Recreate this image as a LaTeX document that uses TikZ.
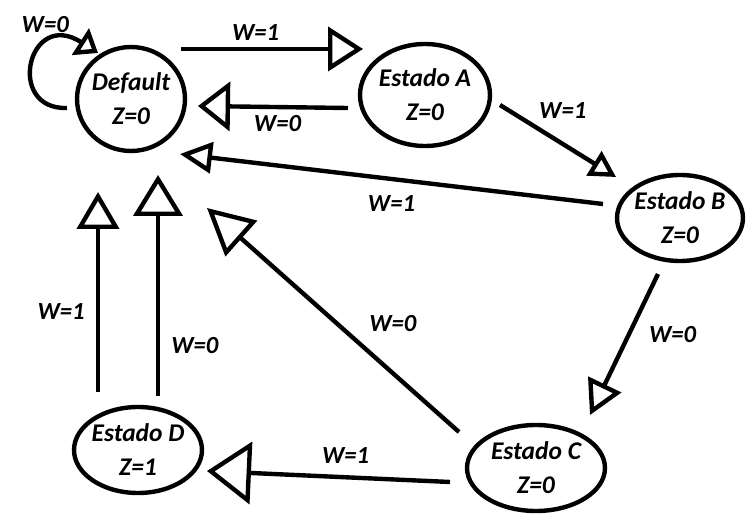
\documentclass[tikz,border=0pt]{standalone}
\usepackage{fontspec}
\setmainfont{Carlito}
\usetikzlibrary{arrows.meta,shapes.geometric}

\begin{document}
\begin{tikzpicture}[x=0.02cm,y=-0.02cm,line width=2.5pt,
    state/.style={draw,ellipse,align=center,inner xsep=-6pt,inner ysep=0pt,
      font=\fontsize{14.5}{19.3}\selectfont\bfseries\itshape},
    lbl/.style={font=\fontsize{14}{17}\selectfont\bfseries\itshape},
    arr/.style 2 args={-{Triangle[open,length=#1,width=#2]}}]
    \useasboundingbox (0,0) rectangle (751,520);
    \node[state,minimum width=2.16cm,minimum height=2.08cm] (def) at (131,99) {Default\\Z=0};
    \node[state,minimum width=2.60cm,minimum height=2.04cm] (a) at (425,95) {Estado A\\Z=0};
    \node[state,minimum width=2.52cm,minimum height=1.72cm] (b) at (680,218) {Estado B\\Z=0};
    \node[state,minimum width=2.76cm,minimum height=1.72cm] (c) at (536,468) {Estado C\\Z=0};
    \node[state,minimum width=2.56cm,minimum height=1.72cm] (d) at (138,450) {Estado D\\Z=1};
    \draw[arr={0.42cm}{0.62cm}] ([shift={(-64,9)}]def.center) .. controls +(-62,2) and +(-70,-45) .. ([shift={(-33,-46)}]def.center) node[lbl,pos=0.75,xshift=-5.5pt,yshift=10.5pt] (w0) {W=0};
    \draw[arr={0.70cm}{0.88cm}] ([shift={(50,-50)}]def.center) -- ([shift={(-62,-46)}]a.center) node[lbl,pos=0.41,above] (w1) {W=1};
    \draw[arr={0.64cm}{0.98cm}] ([shift={(-77,13)}]a.center) -- ([shift={(67,7)}]def.center) node[lbl,pos=0.47,below] (w2) {W=0};
    \draw[arr={0.52cm}{0.56cm}] ([shift={(75,10)}]a.center) -- ([shift={(-64,-41)}]b.center) node[lbl,pos=0.45,above=6pt,xshift=6pt] (w3) {W=1};
    \draw[arr={0.64cm}{0.62cm}] ([shift={(-77,-14)}]b.center) -- ([shift={(49,55)}]def.center) node[lbl,pos=0.5,below=5pt] (w4) {W=1};
    \draw[arr={0.68cm}{0.72cm}] ([shift={(-22,56)}]b.center) -- ([shift={(54,-53)}]c.center) node[lbl,pos=0.43,right=7pt] (w5) {W=0};
    \draw[arr={0.92cm}{0.94cm}] ([shift={(-77,-36)}]c.center) -- ([shift={(76,109)}]def.center) node[lbl,pos=0.36,xshift=14pt,yshift=16pt] (w6) {W=0};
    \draw[arr={0.88cm}{1.24cm}] ([shift={(-86,14)}]c.center) -- ([shift={(69,21)}]d.center) node[lbl,pos=0.43,above=3pt] (w7) {W=1};
    \draw[arr={0.74cm}{0.84cm}] ([shift={(-40,-58)}]d.center) -- ([shift={(-33,93)}]def.center) node[lbl,pos=0.4,left=3pt] (w8) {W=1};
    \draw[arr={0.82cm}{0.98cm}] ([shift={(20,-54)}]d.center) -- ([shift={(27,76)}]def.center) node[lbl,pos=0.23,right=3pt] (w9) {W=0};
\end{tikzpicture}
\end{document}
